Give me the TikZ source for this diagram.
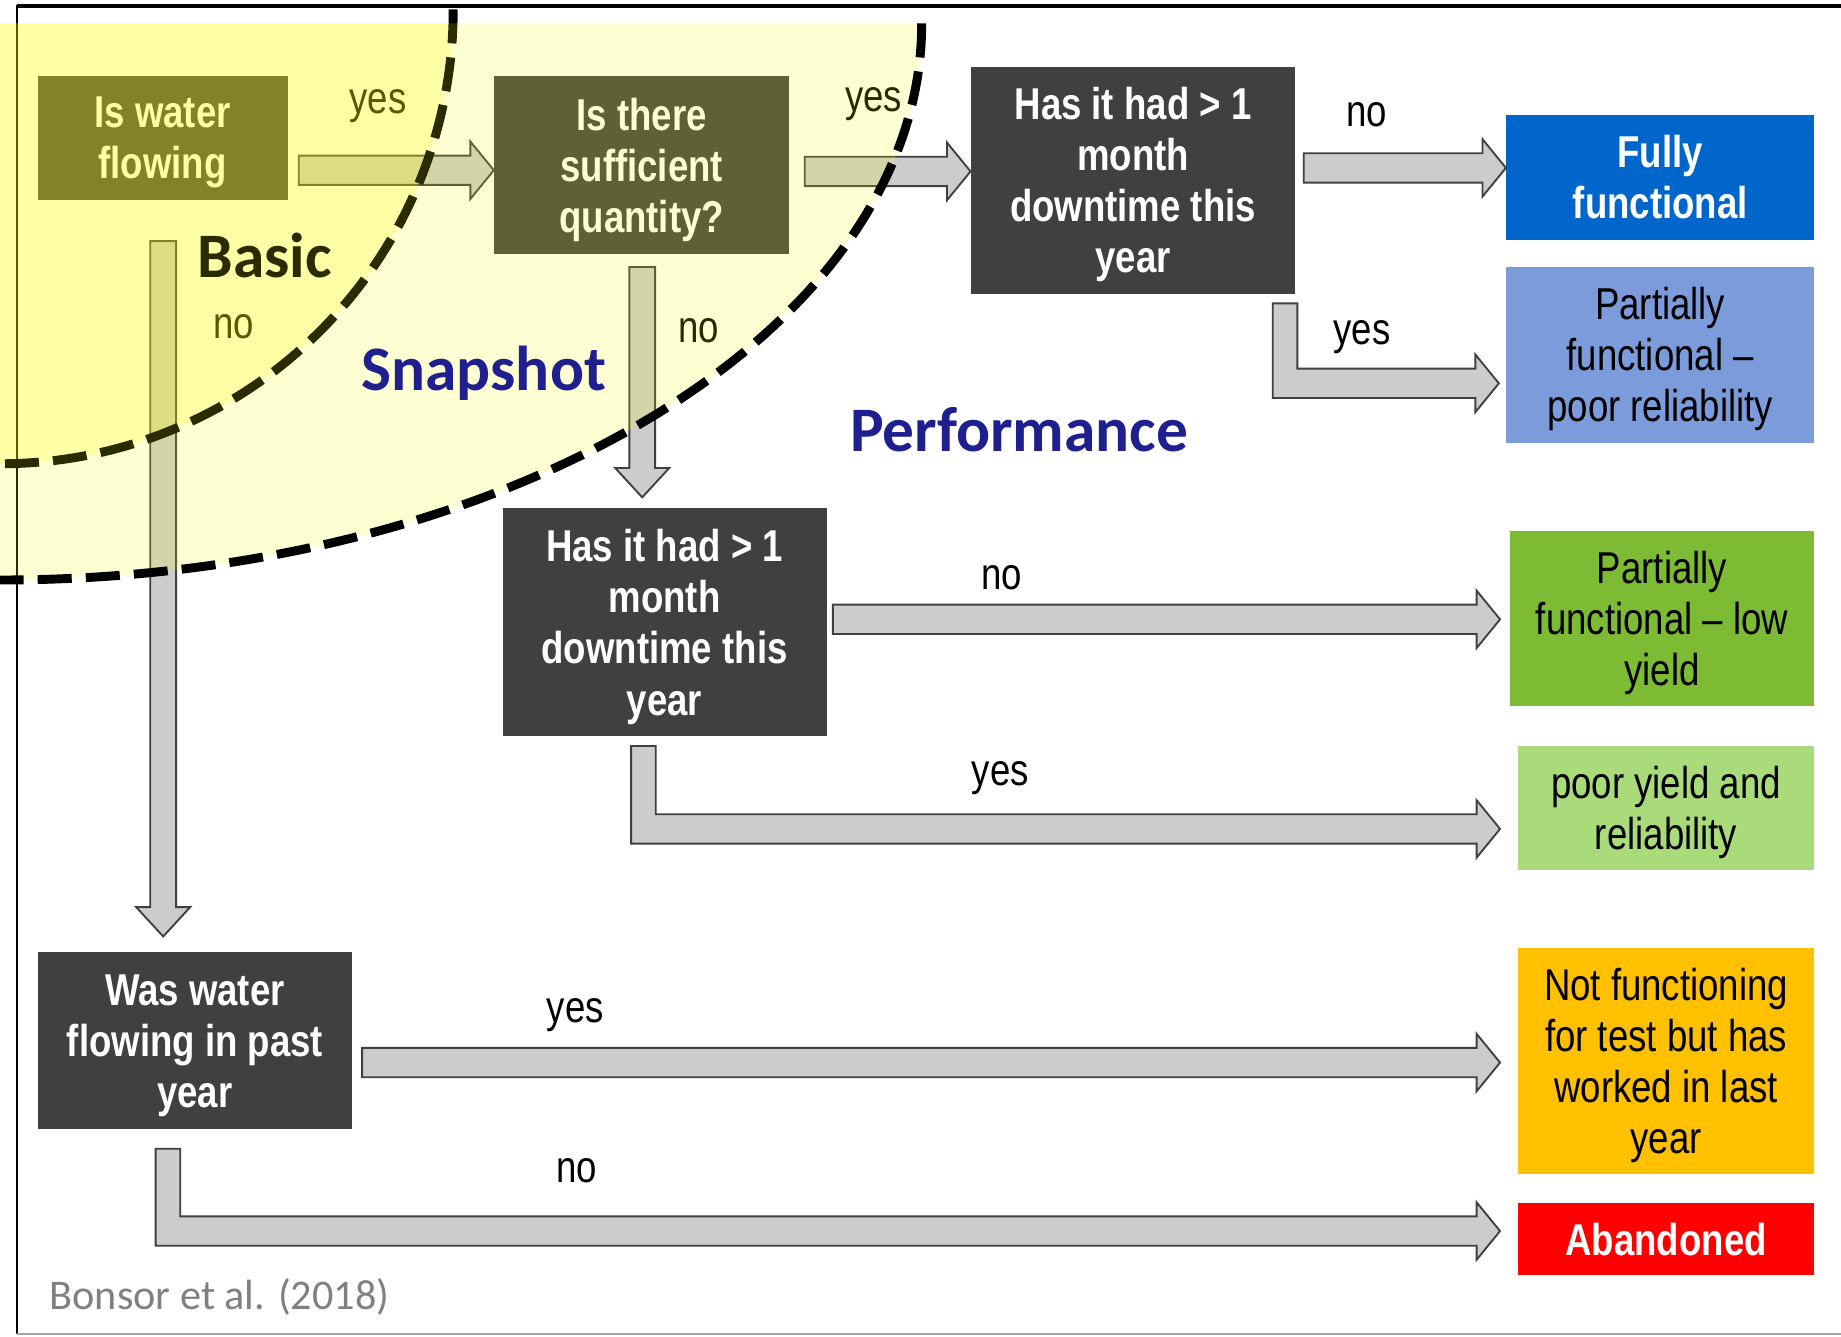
\documentclass[tikz,border=0pt]{standalone}
\usepackage{fontspec}
\setmainfont{Liberation Sans}
\newfontfamily\narrow[FakeStretch=0.82]{Liberation Sans}
\newfontfamily\calib{Carlito}
\usetikzlibrary{calc}

\definecolor{boxgray}{HTML}{404040}
\definecolor{arrgray}{HTML}{CCCCCC}
\definecolor{ylw}{RGB}{255,255,0}
\definecolor{ttlblue}{HTML}{1F1F8F}
\definecolor{fullblue}{HTML}{0066CC}
\definecolor{partblue}{HTML}{7B9BDB}
\definecolor{partgreen}{HTML}{7CBB33}
\definecolor{lightgreen}{HTML}{A9DB7B}
\definecolor{amber}{HTML}{FFC000}
\definecolor{abred}{HTML}{FF0000}
\definecolor{credit}{HTML}{808080}

\tikzset{
  boxbase/.style={rectangle, inner sep=0pt, align=center, text depth=0pt},
  qbox/.style={boxbase, fill=boxgray, text=white,
    font=\narrow\bfseries\fontsize{19}{21.75}\selectfont},
  rbox/.style={boxbase, text=black,
    font=\narrow\fontsize{19}{21.75}\selectfont},
  rboxw/.style={boxbase, text=white,
    font=\narrow\bfseries\fontsize{19}{21.75}\selectfont},
  lbl/.style={inner sep=0pt, font=\narrow\fontsize{19}{21.75}\selectfont},
  ttl/.style={inner sep=0pt, text=ttlblue, font=\calib\bfseries\fontsize{27}{32}\selectfont},
  arr/.style={fill=arrgray, draw=boxgray, line width=0.8pt, line join=miter},
  dashline/.style={draw=black, line width=3.8pt, dash pattern=on 14.5pt off 6pt},
}

% horizontal block arrow: from, to, y(px), start gap, end gap
\newcommand\harrow[5]{%
  \draw[arr] let \p1=(#1.east), \p2=(#2.west), \p3=(0,#3) in
    (\x1+#4,\y3+6.25pt) -- (\x2-#5-10pt,\y3+6.25pt) -- (\x2-#5-10pt,\y3+12.25pt)
    -- (\x2-#5,\y3) -- (\x2-#5-10pt,\y3-12.25pt) -- (\x2-#5-10pt,\y3-6.25pt)
    -- (\x1+#4,\y3-6.25pt) -- cycle;}
% vertical block arrow: from, to, x(px), top gap, tip gap
\newcommand\varrow[5]{%
  \draw[arr] let \p1=(#1.south), \p2=(#2.north), \p3=(#3,0) in
    (\x3-5.5pt,\y1-#4) -- (\x3+5.5pt,\y1-#4) -- (\x3+5.5pt,\y2+#5+12.5pt)
    -- (\x3+11.5pt,\y2+#5+12.5pt) -- (\x3,\y2+#5) -- (\x3-11.5pt,\y2+#5+12.5pt)
    -- (\x3-5.5pt,\y2+#5+12.5pt) -- cycle;}
% elbow block arrow: from, to, x(px), y(px), top gap, end gap
\newcommand\larrow[6]{%
  \draw[arr] let \p1=(#1.south), \p2=(#2.west), \p3=(#3,#4) in
    (\x3-5.25pt,\y1-#5) -- (\x3+5.25pt,\y1-#5) -- (\x3+5.25pt,\y3+6.25pt)
    -- (\x2-#6-10pt,\y3+6.25pt) -- (\x2-#6-10pt,\y3+12.25pt) -- (\x2-#6,\y3)
    -- (\x2-#6-10pt,\y3-12.25pt) -- (\x2-#6-10pt,\y3-6.25pt)
    -- (\x3-5.25pt,\y3-6.25pt) -- cycle;}

\begin{document}
\begin{tikzpicture}[x=0.5pt, y=-0.5pt]
\useasboundingbox (0,0) rectangle (1568,1138);

% frame
\draw[line width=1pt] (14.5,4) -- (14.5,1136);
\draw[line width=1.5pt] (14.5,5) -- (1568,5);
\draw[credit!70, line width=1pt] (14.5,1136) -- (1568,1136);

% question boxes
\node[qbox, minimum width=106.5pt, minimum height=52.5pt] (b1) at (138.5,117.5) {Is water\\flowing};
\node[qbox, minimum width=125.5pt, minimum height=75.5pt] (b2) at (546.5,140.5) {Is there\\sufficient\\quantity?};
\node[qbox, minimum width=138pt, minimum height=96.5pt] (b3) at (965,153.5) {Has it had > 1\\month\\downtime this\\year};
\node[qbox, minimum width=138pt, minimum height=97pt] (b4) at (566,530) {Has it had > 1\\month\\downtime this\\year};
\node[qbox, minimum width=134pt, minimum height=75.5pt] (b5) at (166,886.5) {Was water\\flowing in past\\year};

% result boxes
\node[rboxw, fill=fullblue, minimum width=131pt, minimum height=53pt] (r1) at (1414,151) {Fully\\functional};
\node[rbox, fill=partblue, minimum width=131pt, minimum height=75pt] (r2) at (1414,302) {Partially\\functional –\\poor reliability};
\node[rbox, fill=partgreen, minimum width=129.5pt, minimum height=74.5pt] (r3) at (1415.5,526.5) {Partially\\functional – low\\yield};
\node[rbox, fill=lightgreen, minimum width=126pt, minimum height=53pt] (r4) at (1419,688) {poor yield and\\reliability};
\node[rbox, fill=amber, minimum width=126pt, minimum height=96.5pt] (r5) at (1419,903.5) {Not functioning\\for test but has\\worked in last\\year};
\node[rboxw, fill=abred, minimum width=126pt, minimum height=30.5pt] (r6) at (1419,1055.5) {Abandoned};

% arrows
\harrow{b1}{b2}{145}{4.5pt}{0pt}
\harrow{b2}{b3}{146}{6.5pt}{0pt}
\harrow{b3}{r1}{143}{3.5pt}{0pt}
\larrow{b3}{r2}{1094.5}{326.5}{4pt}{3pt}
\varrow{b2}{b4}{547}{5.5pt}{4.5pt}
\varrow{b1}{b5}{139}{17.5pt}{6.5pt}
\harrow{b4}{r3}{527.5}{2.5pt}{4pt}
\larrow{b4}{r4}{548}{706}{4pt}{7.5pt}
\harrow{b5}{r5}{905}{4pt}{7.5pt}
\larrow{b5}{r6}{143}{1048.5}{8pt}{7.5pt}

% arrow labels
\node[lbl] (l1) at (322,90) {yes};
\node[lbl] (l2) at (744,89) {yes};
\node[lbl] (l3) at (1164,98) {no};
\node[lbl] (l4) at (1160,287) {yes};
\node[lbl] (l5) at (199,278) {no};
\node[lbl] (l6) at (595,282) {no};
\node[lbl] (l7) at (853,492) {no};
\node[lbl] (l8) at (852,663) {yes};
\node[lbl] (l9) at (490,865) {yes};
\node[lbl] (l10) at (491,997) {no};

% inner (basic) region
\begin{scope}
  \clip (0,20) rectangle (1568,1138);
  \fill[ylw, opacity=0.22] (0,8) -- (386,8) arc[start angle=0, end angle=90, x radius=386, y radius=387] -- cycle;
\end{scope}
\draw[dashline] (386,8) arc[start angle=0, end angle=90, x radius=386, y radius=387];
\node[inner sep=0pt, text=black, font=\calib\bfseries\fontsize{27}{32}\selectfont] (basic) at (225.5,218) {Basic};

% outer (snapshot) region
\begin{scope}
  \clip (0,20) rectangle (1568,1138);
  \fill[ylw, opacity=0.17] (0,20) -- (785,20) arc[start angle=0, end angle=90, x radius=785, y radius=474] -- cycle;
\end{scope}
\draw[dashline] (785,20) arc[start angle=0, end angle=90, x radius=785, y radius=474];

\node[ttl] (snap) at (412,318) {Snapshot};
\node[ttl] (perf) at (868,366) {Performance};
\node[inner sep=0pt, text=credit, font=\calib\fontsize{18}{21}\selectfont] (cite) at (187,1105) {Bonsor et al. (2018)};
\end{tikzpicture}
\end{document}
